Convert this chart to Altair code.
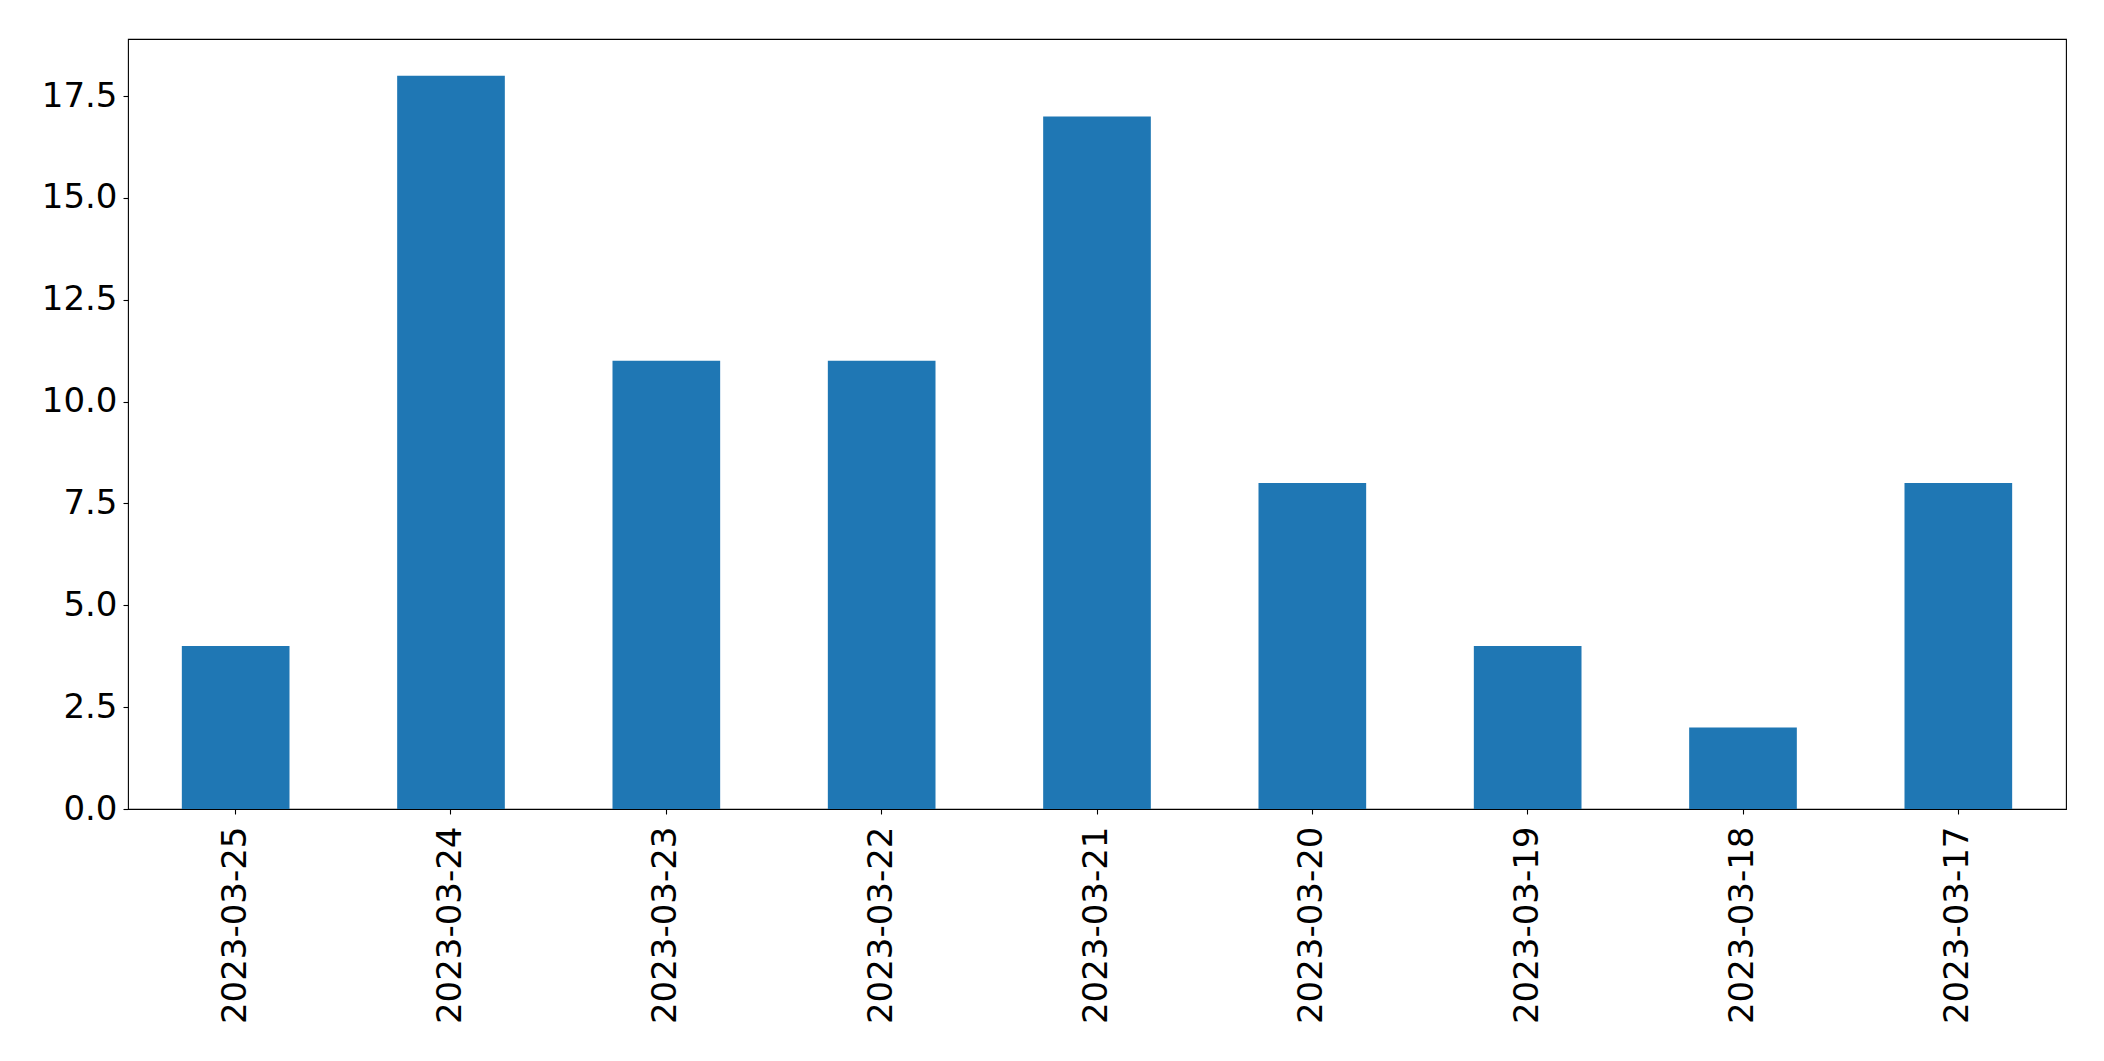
import altair as alt
import pandas as pd

dates = ["2023-03-25", "2023-03-24", "2023-03-23", "2023-03-22", "2023-03-21",
         "2023-03-20", "2023-03-19", "2023-03-18", "2023-03-17"]
counts = [4, 18, 11, 11, 17, 8, 4, 2, 8]
y_ticks = [0.0, 2.5, 5.0, 7.5, 10.0, 12.5, 15.0, 17.5]

df = pd.DataFrame({"date": dates, "count": counts})

font = "DejaVu Sans"
fs = 34

chart = alt.Chart(df).mark_bar(color="#1f77b4").encode(
    x=alt.X("date:N", sort=dates, title=None,
            scale=alt.Scale(paddingInner=0.5, paddingOuter=0.25),
            axis=alt.Axis(labelAngle=-90, labelFont=font, labelFontSize=fs,
                          labelColor="black", tickColor="black", tickSize=5,
                          tickWidth=1.1, domain=False, labelPadding=12,
                          labelAlign="right", labelBaseline="middle",
                          labelLimit=0)),
    y=alt.Y("count:Q", title=None,
            scale=alt.Scale(domain=[0, 18.9], nice=False, zero=True),
            axis=alt.Axis(values=y_ticks, format=".1f", labelFont=font,
                          labelFontSize=fs, labelColor="black", tickColor="black",
                          tickSize=5, tickWidth=1.1, domain=False, grid=False,
                          labelPadding=6, labelLimit=0)),
).properties(
    width=1938, height=770,
    autosize=alt.AutoSizeParams(type="none"),
    padding={"left": 120, "top": 31, "right": 30, "bottom": 225},
).configure(
    background="white",
    view=alt.ViewConfig(stroke="black", strokeWidth=1.1),
)

chart.save("out.html", embed_options={"renderer": "svg", "actions": False})
